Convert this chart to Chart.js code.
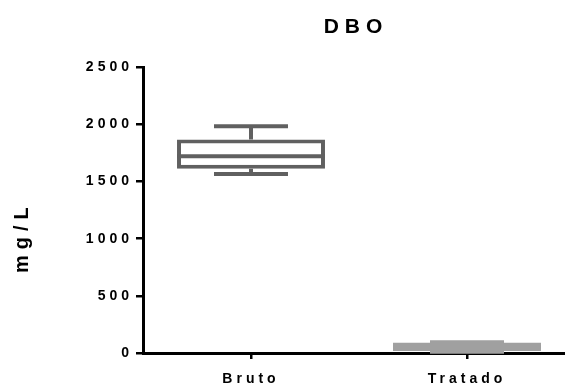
<!DOCTYPE html>
<html>
<head>
<meta charset="utf-8">
<script src="https://cdn.jsdelivr.net/npm/chart.js@4"></script>
<style>
  html, body { margin: 0; padding: 0; background: #fff; overflow: hidden; }
  /* the x axis runs past the right edge of the window, as in the original */
  #wrap { width: 575px; height: 387px; }
</style>
</head>
<body>
<div id="wrap"><canvas id="c"></canvas></div>
<script>
// box plot values (mg/L)
const categories = ['Bruto', 'Tratado'];
const whiskerLow = [1565, 10];
const q1 = [1611, 17];
const median = [1722, 55];
const q3 = [1868, 92];
const whiskerHigh = [1984, 94];
const yTicks = [0, 500, 1000, 1500, 2000, 2500];

const lineColors = ['#606060', '#a0a0a0'];
const fillColors = ['#ffffff', '#a0a0a0'];
const FONT = 'Liberation Sans, Arial, sans-serif';

// wraps a draw function so its text is drawn with wider letter spacing
const spaced = (obj, key, px, shift = () => [0, 0]) => {
    if (!obj || obj['_sp_' + key]) return;
    const fn = obj[key];
    obj[key] = function (...args) {
        const ctx = this.ctx;
        const old = ctx.letterSpacing;
        const [dx, dy] = shift();
        ctx.save();
        ctx.translate(dx, dy);
        ctx.letterSpacing = px;
        const r = fn.apply(this, args);
        ctx.restore();
        ctx.letterSpacing = old;
        return r;
    };
    obj['_sp_' + key] = true;
};

const spacingPlugin = {
    id: 'spacing',
    beforeDraw(chart) {
        const { x, y } = chart.scales;
        spaced(x, 'drawLabels', '4px');
        spaced(y, 'drawLabels', '4px');
        spaced(y, 'drawTitle', '6px', () => [0, 27]);
        const tb = chart.titleBlock;
        spaced(tb, 'draw', '6px', () => {
            const a = chart.chartArea;
            return [(a.left + a.right) / 2 - (tb.left + tb.right) / 2 - 3, 0];
        });
    },
};

const whiskerPlugin = {
    id: 'whiskers',
    afterDatasetsDraw(chart) {
        const ctx = chart.ctx;
        const ys = chart.scales.y;
        const meta = chart.getDatasetMeta(0);
        meta.data.forEach((bar, i) => {
            const { x, width } = bar.getProps(['x', 'width'], true);
            ctx.save();
            ctx.strokeStyle = lineColors[i];
            ctx.lineWidth = 4;
            ctx.lineCap = 'butt';
            const yLo = ys.getPixelForValue(whiskerLow[i]);
            const yHi = ys.getPixelForValue(whiskerHigh[i]);
            const yQ1 = ys.getPixelForValue(q1[i]);
            const yQ3 = ys.getPixelForValue(q3[i]);
            const yMed = ys.getPixelForValue(median[i]);
            ctx.beginPath();
            // median
            ctx.moveTo(x - width / 2, yMed);
            ctx.lineTo(x + width / 2, yMed);
            // whiskers
            ctx.moveTo(x, yQ3);
            ctx.lineTo(x, yHi);
            ctx.moveTo(x, yQ1);
            ctx.lineTo(x, yLo);
            // caps
            ctx.moveTo(x - width / 4, yHi);
            ctx.lineTo(x + width / 4, yHi);
            ctx.moveTo(x - width / 4, yLo);
            ctx.lineTo(x + width / 4, yLo);
            ctx.stroke();
            ctx.restore();
        });
    },
};

new Chart(document.getElementById('c'), {
    type: 'bar',
    data: {
        labels: categories,
        datasets: [{
            data: q1.map((v, i) => [v, q3[i]]),
            backgroundColor: fillColors,
            borderColor: lineColors,
            borderWidth: 4,
            borderSkipped: false,
            barPercentage: 0.685,
            categoryPercentage: 1,
        }],
    },
    options: {
        responsive: true,
        maintainAspectRatio: false,
        animation: false,
        layout: { padding: 0 },
        plugins: {
            legend: { display: false },
            tooltip: { enabled: false },
            title: {
                display: true,
                text: 'DBO',
                color: '#000',
                font: { family: FONT, size: 21, weight: 'bold' },
                padding: { top: 15, bottom: 27 },
            },
        },
        scales: {
            x: {
                type: 'category',
                offset: true,
                afterFit: s => { s.height = 34; },
                border: { display: true, color: '#000', width: 3 },
                grid: { drawOnChartArea: false, offset: false, color: '#000', lineWidth: 2.5, tickLength: 6 },
                ticks: { color: '#000', font: { family: FONT, size: 14, weight: 'bold' }, padding: 12, maxRotation: 0 },
            },
            y: {
                min: 0,
                max: 2500,
                afterBuildTicks: s => { s.ticks = yTicks.map(v => ({ value: v })); },
                afterFit: s => { s.width = 143; },
                border: { display: true, color: '#000', width: 3 },
                grid: { drawOnChartArea: false, color: '#000', lineWidth: 2.5, tickLength: 7 },
                ticks: {
                    color: '#000',
                    font: { family: FONT, size: 14, weight: 'bold' },
                    padding: 3,
                    callback: v => String(v),
                },
                title: {
                    display: true,
                    text: 'mg/L',
                    color: '#000',
                    font: { family: FONT, size: 20, weight: 'bold' },
                    padding: { top: 10, bottom: 0 },
                },
            },
        },
    },
    plugins: [spacingPlugin, whiskerPlugin],
});
</script>
</body>
</html>
